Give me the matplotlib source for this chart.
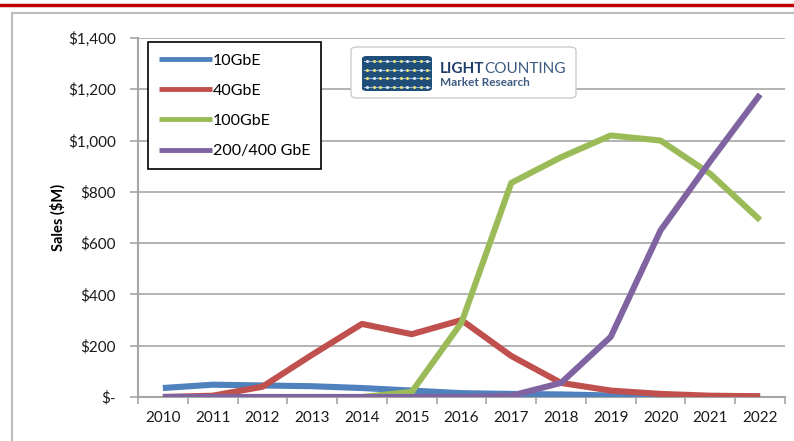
import matplotlib.pyplot as plt
import matplotlib.patches as mpatches
from matplotlib.ticker import FuncFormatter, FixedLocator

plt.rcParams['font.family'] = ['Lato', 'DejaVu Sans']

years = ['2010', '2011', '2012', '2013', '2014', '2015', '2016',
         '2017', '2018', '2019', '2020', '2021', '2022']
gbe10 = [35, 48, 45, 42, 35, 25, 15, 12, 10, 6, 4, 2, 1]
gbe40 = [0, 5, 40, 165, 285, 245, 300, 160, 55, 25, 12, 5, 3]
gbe100 = [0, 0, 0, 0, 0, 20, 290, 835, 935, 1020, 1000, 870, 690]
gbe400 = [0, 0, 0, 0, 0, 0, 0, 5, 55, 235, 650, 920, 1180]

series = [('10GbE', gbe10, '#4F81BD'),
          ('40GbE', gbe40, '#C0504D'),
          ('100GbE', gbe100, '#9BBB59'),
          ('200/400 GbE', gbe400, '#8064A2')]

W, H = 794, 441
fig = plt.figure(figsize=(W / 100, H / 100), dpi=100)


def fx(px):
    return px / W


def fy(py):
    return 1 - py / H


# ── frame decorations ────────────────────────────────────────────────
fig.add_artist(plt.Line2D([0, 1], [fy(5), fy(5)], color='#C00000', lw=2.5))
fig.add_artist(mpatches.Rectangle((fx(12), -0.05), 1.0, fy(13) + 0.05,
                                  fill=False, ec='#bbbbbb', lw=1.5))

ax = fig.add_axes([fx(138), fy(397), 647 / W, 359 / H])
x = list(range(len(years)))
for name, vals, col in series:
    ax.plot(x, vals, color=col, lw=4.4, label=name, solid_capstyle='butt', zorder=3)

ax.set_xlim(-0.5, len(years) - 0.5)
ax.set_ylim(0, 1400)
ax.set_yticks(range(0, 1401, 200))
ax.yaxis.set_major_formatter(FuncFormatter(lambda v, p: '$-' if v == 0 else f'${int(v):,}'))
ax.grid(axis='y', color='#a6a6a6', lw=1.2, zorder=0)
ax.set_xticks(x)
ax.set_xticklabels(years)
ax.xaxis.set_minor_locator(FixedLocator([i - 0.5 for i in range(len(years) + 1)]))
ax.tick_params(axis='x', which='major', length=0, labelsize=11, pad=10, colors='#1a1a1a')
ax.tick_params(axis='x', which='minor', length=5, width=1.2, color='#a6a6a6', direction='out')
ax.tick_params(axis='y', length=6, width=1.2, color='#a6a6a6', labelsize=11, pad=10,
               labelcolor='#1a1a1a')
for s in ['top', 'right']:
    ax.spines[s].set_visible(False)
for s in ['left', 'bottom']:
    ax.spines[s].set_color('#a6a6a6')
    ax.spines[s].set_linewidth(1.5)
ax.set_ylabel('Sales ($M)', fontsize=10.5, fontweight='bold', labelpad=2)

leg = ax.legend(loc='upper left', bbox_to_anchor=(0.0155, 0.988), fontsize=11.5,
                frameon=True, fancybox=False, edgecolor='black', framealpha=1,
                handlelength=3.3, handletextpad=0.05, labelspacing=1.0,
                borderpad=0.7, borderaxespad=0)
leg.get_frame().set_linewidth(1.2)
for ln in leg.get_lines():
    ln.set_linewidth(3.5)

# ── LightCounting logo ───────────────────────────────────────────────
fig.add_artist(mpatches.FancyBboxPatch((fx(351), fy(98)), fx(576) - fx(351), fy(47) - fy(98),
                                       boxstyle='round,pad=0,rounding_size=0.008',
                                       fc='white', ec='#cccccc', lw=1.0, zorder=5))
fig.add_artist(mpatches.FancyBboxPatch((fx(362), fy(91)), fx(432) - fx(362), fy(56) - fy(91),
                                       boxstyle='round,pad=0,rounding_size=0.006',
                                       fc='#1f4e79', ec='none', zorder=6))
for row in range(4):
    yy = fy(61 + row * 8.5)
    fig.add_artist(plt.Line2D([fx(364), fx(430)], [yy, yy], color='#8fb3d9', lw=0.8, zorder=7))
    for col in range(10):
        c = '#e8e07a' if (row + col) % 3 else '#d9e6f2'
        fig.add_artist(plt.Line2D([fx(367 + col * 6.7)], [yy], marker='o', ms=2.2,
                                  color=c, mec='none', zorder=8))
t1 = fig.text(fx(440), fy(69), 'LIGHT', fontsize=11, fontweight='bold', color='#1f3d6b',
              va='center', ha='left', zorder=9)
fig.canvas.draw()
bb = t1.get_window_extent()
fig.text(bb.x1 / W, fy(69), 'COUNTING', fontsize=11, color='#3d5a80',
         va='center', ha='left', zorder=9)
fig.text(fx(440), fy(82), 'Market Research', fontsize=8.5, fontweight='bold', color='#3d5a80',
         va='center', ha='left', zorder=9)

fig.savefig('out.png', dpi=100)
